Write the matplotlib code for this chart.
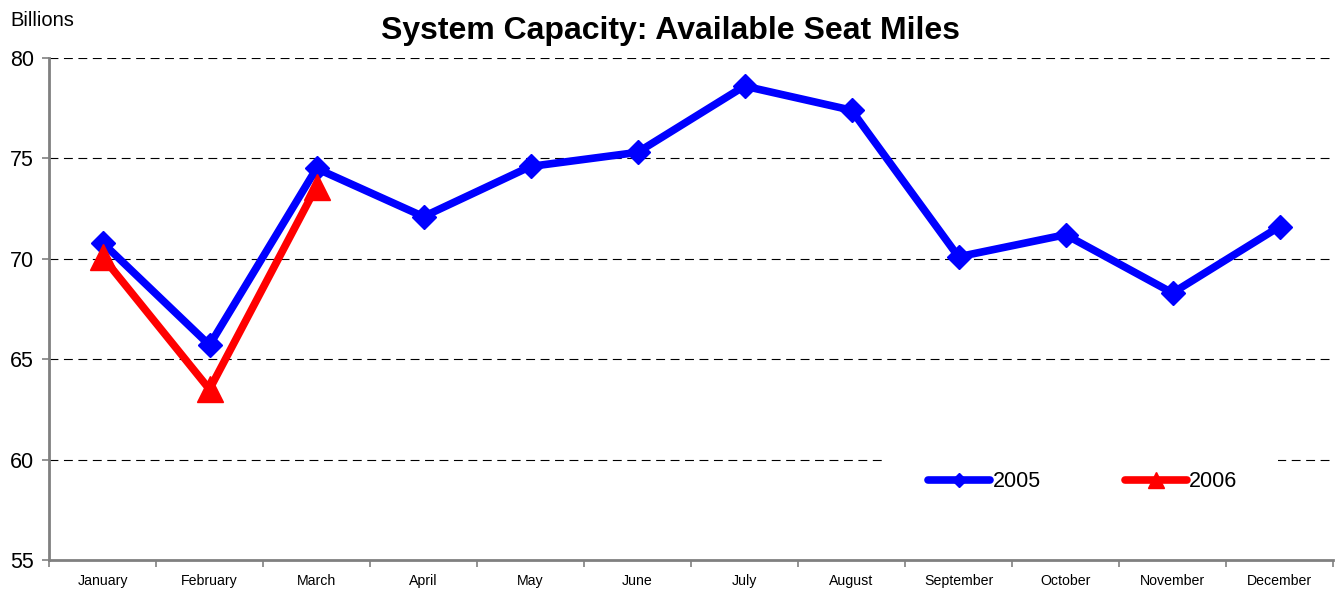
#!/usr/bin/env python3
"""System capacity chart: available seat miles by month."""

import matplotlib
matplotlib.use("Agg")
import matplotlib.pyplot as plt
import numpy as np

plt.rcParams.update(
    {
        "font.family": ["Liberation Sans", "DejaVu Sans"],
        "font.size": 10,
    }
)

MONTHS = ["January", "February", "March", "April", "May", "June", "July",
          "August", "September", "October", "November", "December"]
ASM_2005 = [70.8, 65.7, 74.5, 72.1, 74.6, 75.3, 78.6, 77.4, 70.1, 71.2, 68.3, 71.6]
ASM_2006 = [70.1, 63.5, 73.6]

BLUE = "#0000ff"
RED = "#ff0000"
GRAY = "#808080"


def main():
    fig = plt.figure(figsize=(13.35, 5.97), dpi=100)
    ax = fig.add_axes([49 / 1335, 1 - 560 / 597, (1333 - 49) / 1335, (560 - 58) / 597])

    x = np.arange(len(MONTHS))
    ax.plot(x, ASM_2005, color=BLUE, lw=5.5, marker="D", ms=12,
            label="2005", solid_capstyle="round", zorder=3)
    ax.plot(x[:len(ASM_2006)], ASM_2006, color=RED, lw=5.5, marker="^", ms=19,
            label="2006", solid_capstyle="round", zorder=4)

    ax.set_xlim(-0.5, len(MONTHS) - 0.5)
    ax.set_ylim(55, 80)
    ax.set_yticks(np.arange(55, 81, 5))
    ax.set_xticks(x)
    ax.set_xticklabels(MONTHS, fontsize=10.2)
    ax.set_xticks(np.arange(-0.5, len(MONTHS), 1), minor=True)
    ax.tick_params(axis="x", which="major", length=0, pad=10)
    ax.tick_params(axis="x", which="minor", length=5, color=GRAY, width=1.2)
    ax.tick_params(axis="y", length=5, color=GRAY, width=1.2, labelsize=15.5, pad=6)

    for v in range(60, 81, 5):
        ax.axhline(v, color="black", lw=0.8, ls=(0, (8, 5)), zorder=1)

    for side in ("top", "right"):
        ax.spines[side].set_visible(False)
    for side in ("left", "bottom"):
        ax.spines[side].set_color(GRAY)
        ax.spines[side].set_linewidth(2)

    fig.text(0.502, 1 - 31 / 597, "System Capacity: Available Seat Miles",
             fontsize=23, fontweight="bold", ha="center", va="center")
    fig.text(10 / 1335, 1 - 20 / 597, "Billions", fontsize=14.5, va="center")

    leg = ax.legend(loc="center", bbox_to_anchor=(0.805, 0.156), ncol=2,
                    fontsize=15.5, frameon=True, handlelength=2.9,
                    columnspacing=3.9, markerscale=0.6, borderpad=1.9,
                    borderaxespad=0, handletextpad=0.1)
    leg.get_frame().set_facecolor("white")
    leg.get_frame().set_edgecolor("none")
    leg.get_frame().set_alpha(1)
    leg.get_frame().set_boxstyle("square", pad=0)
    leg.set_zorder(5)

    fig.savefig("out.png", dpi=100)
    plt.close(fig)


if __name__ == "__main__":
    main()
